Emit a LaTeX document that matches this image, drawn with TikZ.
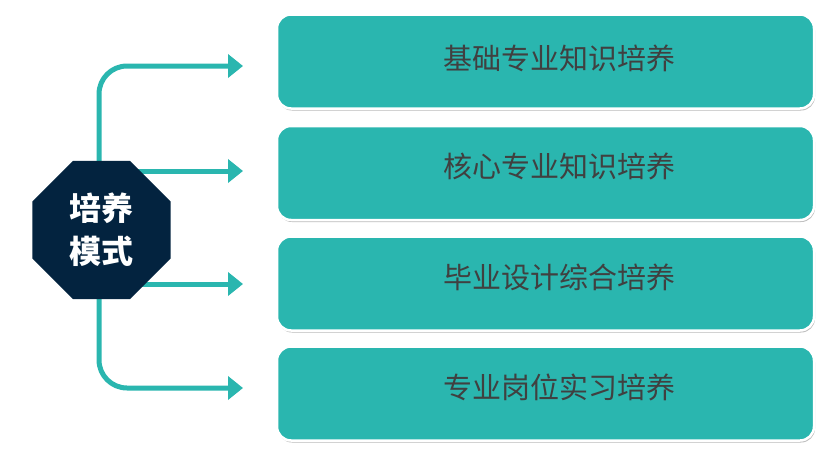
\documentclass[tikz,border=0pt]{standalone}
\usepackage{fontspec}
\newfontfamily\cjk{Noto Sans CJK SC}
\usetikzlibrary{arrows.meta,shapes.geometric,shadows,backgrounds}
\definecolor{teal1}{HTML}{2AB6AF}
\definecolor{navy1}{HTML}{03233F}
\definecolor{txt1}{HTML}{404040}
\tikzset{
  box/.style={draw=white, line width=2.5pt, fill=teal1, rounded corners=14pt,
    minimum width=537pt, minimum height=94pt, inner sep=0pt,
    drop shadow={shadow xshift=1pt, shadow yshift=-2pt, fill=black!45, opacity=.6}},
  boxtext/.style={font=\cjk\fontsize{29}{34}\selectfont, text=txt1, inner sep=0pt},
  conn/.style={draw=teal1, line width=5pt, rounded corners=28pt,
    -{Triangle[length=15pt,width=23pt]}},
  oct/.style={regular polygon, regular polygon sides=8, fill=navy1,
    minimum size=149.4pt, inner sep=0pt, align=center, text=white,
    font=\cjk\bfseries\fontsize{32}{43}\selectfont}
}
\begin{document}
\begin{tikzpicture}[x=1pt,y=-1pt]
\useasboundingbox (0,0) rectangle (832,455);
\node[oct] (c) at (101.5,230) {培养\\模式};
\coordinate (t1) at (243,66);
\coordinate (t2) at (243,171);
\coordinate (t3) at (243,284);
\coordinate (t4) at (243,388);
\begin{pgfonlayer}{background}
\draw[conn] (c.center -| 99,0) |- (t1);
\draw[conn] (c.center |- t2) -- (t2);
\draw[conn] (c.center |- t3) -- (t3);
\draw[conn] (c.center -| 99,0) |- (t4);
\end{pgfonlayer}
\node[box] (b1) at (545.5,61.5) {};
\node[box] (b2) at (545.5,173) {};
\node[box] (b3) at (545.5,283.5) {};
\node[box] (b4) at (545.5,393.5) {};
\node[boxtext] (l1) at ([xshift=14pt,yshift=3pt]b1.center) {基础专业知识培养};
\node[boxtext] (l2) at ([xshift=14pt,yshift=6.5pt]b2.center) {核心专业知识培养};
\node[boxtext] (l3) at ([xshift=14pt,yshift=6.5pt]b3.center) {毕业设计综合培养};
\node[boxtext] (l4) at ([xshift=14pt,yshift=6.5pt]b4.center) {专业岗位实习培养};
\end{tikzpicture}
\end{document}
